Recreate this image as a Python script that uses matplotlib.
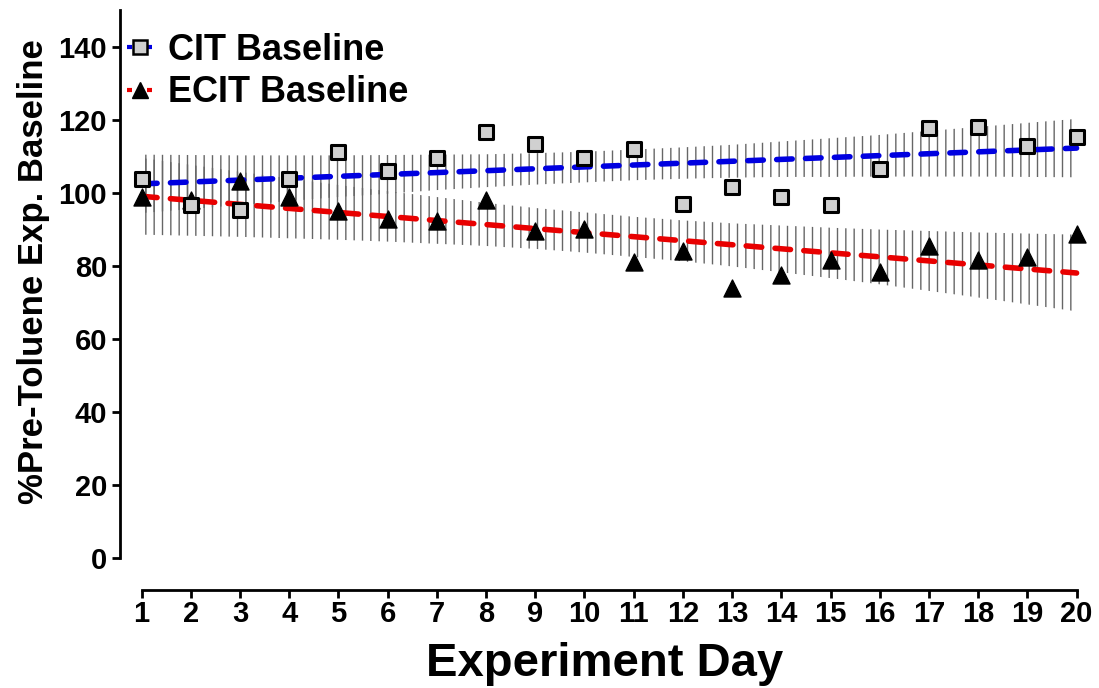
import matplotlib
matplotlib.use("Agg")
import matplotlib.pyplot as plt
import numpy as np

plt.rcParams["font.family"] = ["Liberation Sans", "DejaVu Sans"]
plt.rcParams["font.weight"] = "bold"
plt.rcParams["hatch.linewidth"] = 1.0

# ── data ──────────────────────────────────────────────────────────────
days = np.arange(1, 21)

cit = [103.6, 96.7, 95.3, 103.6, 111.0, 105.8, 109.6, 116.7, 113.2, 109.6,
       112.0, 97.0, 101.6, 98.9, 96.7, 106.6, 117.8, 118.0, 112.9, 115.3]
ecit = [98.9, 98.0, 103.3, 98.9, 95.0, 92.9, 92.3, 98.0, 89.6, 90.1,
        81.0, 84.0, 74.0, 77.5, 81.6, 78.4, 85.5, 81.6, 82.5, 88.8]

# regression line end points (day 1, day 20)
fit_days = [1, 20]
cit_fit = [102.4, 112.2]
ecit_fit = [99.0, 78.0]

# confidence band edges, read per day
cit_upper = [110.4, 110.3, 110.2, 110.2, 110.2, 110.3, 110.4, 110.5, 110.8, 111.2,
             111.8, 112.4, 113.1, 114.0, 114.9, 115.8, 116.9, 118.0, 119.1, 120.2]
cit_lower = [94.4, 95.5, 96.6, 97.7, 98.8, 99.7, 100.7, 101.5, 102.2, 102.8,
             103.4, 103.8, 104.1, 104.3, 104.3, 104.4, 104.4, 104.4, 104.3, 104.2]
ecit_upper = [109.5, 107.6, 105.7, 103.9, 102.1, 100.4, 98.8, 97.2, 95.8, 94.6,
              93.4, 92.4, 91.6, 91.0, 90.4, 89.9, 89.5, 89.1, 88.8, 88.5]
ecit_lower = [88.5, 88.2, 87.9, 87.5, 87.1, 86.6, 86.0, 85.4, 84.6, 83.6,
              82.4, 81.2, 79.8, 78.2, 76.6, 74.9, 73.1, 71.3, 69.4, 67.5]

# ── figure ────────────────────────────────────────────────────────────
fig = plt.figure(figsize=(10.99, 6.88), dpi=100)
ax = fig.add_axes([0.1088, 0.189, 0.882, 0.7965])

# hatched bands
ax.fill_between(days, cit_lower, cit_upper, facecolor="none", edgecolor="#666666",
                hatch="||", linewidth=0, zorder=1)
ax.fill_between(days, ecit_lower, ecit_upper, facecolor="none", edgecolor="#666666",
                hatch="||", linewidth=0, zorder=1)

# fit lines
ax.plot(fit_days, cit_fit, color="#0000e0", lw=4, ls=(0, (2.8, 2.4)),
        dash_capstyle="round", zorder=2)
ax.plot(fit_days, ecit_fit, color="#e80000", lw=4, ls=(0, (2.8, 2.4)),
        dash_capstyle="round", zorder=2)

# markers
ax.scatter(days, ecit, marker="^", s=150, color="black", zorder=3)
ax.scatter(days, cit, marker="s", s=115, facecolor="#d0d0d0", edgecolor="black",
           linewidths=2.2, zorder=4)

# legend handles
h1, = ax.plot([], [], color="#0000e0", lw=3, ls=(0, (1.2, 1.2)), marker="s",
              markersize=10, markerfacecolor="#d0d0d0", markeredgecolor="black",
              markeredgewidth=1.8)
h2, = ax.plot([], [], color="#e80000", lw=3, ls=(0, (1.2, 1.2)), marker="^",
              markersize=12, markerfacecolor="black", markeredgecolor="black")
leg = ax.legend([h1, h2], ["CIT Baseline", "ECIT Baseline"], loc="upper left",
                bbox_to_anchor=(0.008, 0.958), frameon=False, fontsize=26,
                handlelength=0.72, handletextpad=0.42, labelspacing=0.2,
                borderaxespad=0, borderpad=0)
for t in leg.get_texts():
    t.set_fontweight("bold")

# ── axes styling ──────────────────────────────────────────────────────
ax.set_xlim(0.553, 20.25)
ax.set_ylim(0, 150)
ax.set_xticks(days)
ax.set_yticks(np.arange(0, 141, 20))
ax.tick_params(axis="both", labelsize=21, width=2, length=6)
ax.tick_params(axis="x", pad=1)
ax.tick_params(axis="y", pad=3)
for lab in ax.get_xticklabels() + ax.get_yticklabels():
    lab.set_fontweight("bold")

ax.spines["top"].set_visible(False)
ax.spines["right"].set_visible(False)
ax.spines["left"].set_linewidth(2)
ax.spines["bottom"].set_linewidth(2)
ax.spines["bottom"].set_position(("outward", 23))
ax.spines["bottom"].set_bounds(1, 20)

ax.set_xlabel("Experiment Day", fontsize=34, fontweight="bold", labelpad=10)
ax.set_ylabel("%Pre-Toluene Exp. Baseline", fontsize=25, fontweight="bold")
ax.yaxis.set_label_coords(-0.072, 0.522)

fig.savefig("out.png", dpi=100, facecolor="white")
plt.close()
